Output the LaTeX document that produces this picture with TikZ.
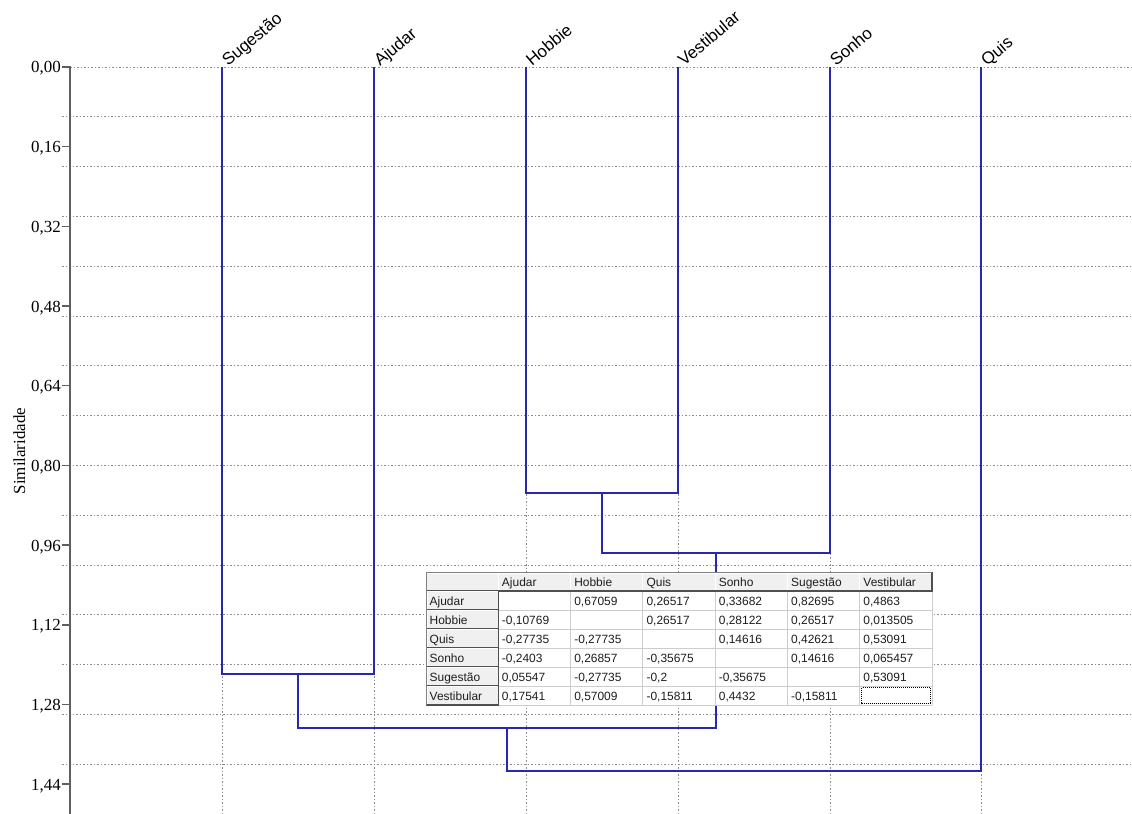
\documentclass[tikz,border=0pt]{standalone}
\usepackage{fontspec}
\setmainfont{Liberation Serif}
\newfontfamily\sansf{Liberation Sans}
\definecolor{dendro}{RGB}{40,40,175}
\definecolor{gridc}{RGB}{140,140,140}
\definecolor{axisc}{RGB}{95,95,95}
\definecolor{hdrfill}{RGB}{240,240,240}
\definecolor{hdrdark}{RGB}{80,80,80}
\definecolor{celline}{RGB}{205,205,205}
\definecolor{celltxt}{RGB}{30,30,30}
\tikzset{
 gridline/.style={gridc, line width=0.9bp, dash pattern=on 1.5bp off 2bp},
 axisline/.style={axisc, line width=2bp},
 tickmark/.style={axisc, line width=1.5bp},
 ticklabel/.style={anchor=base east, inner sep=0pt, font=\fontsize{17}{20}\selectfont},
 ylabel/.style={anchor=base, inner sep=0pt, rotate=90, font=\fontsize{17}{20}\selectfont},
 leaflabel/.style={anchor=base west, inner sep=0pt, rotate=40, font=\sansf\fontsize{17}{20}\selectfont},
 branch/.style={dendro, line width=2.5bp, line join=miter},
 celltext/.style={anchor=base west, inner sep=0pt, text=celltxt, font=\sansf\fontsize{12}{14}\selectfont},
 hdredge/.style={hdrdark, line width=1.2bp},
}
\newcommand\ytick[3]{\draw[tickmark] (62,#2) -- (70,#2); \node[ticklabel] (#1) at (61,{#2+6}) {#3};}
\newcommand\tcell[4]{\node[celltext] (#1) at ({429.5+72.29*#2},{572+19*#3+14.5}) {#4};}
\begin{document}
\begin{tikzpicture}[x=1bp,y=-1bp]
\useasboundingbox (0,0) rectangle (1132,814);
% grid
\foreach \k in {1,...,15} \draw[gridline] (62,{67+49.8*\k}) -- (1132,{67+49.8*\k});
\draw[gridline] (70,67) -- (1132,67);
\foreach \x in {222,374,526,678,830,981} \draw[gridline] (\x,67) -- (\x,814);
% axis
\draw[axisline] (70,66) -- (70,814);
\ytick{t0}{67}{0,00}
\ytick{t1}{146.7}{0,16}
\ytick{t2}{226.4}{0,32}
\ytick{t3}{306}{0,48}
\ytick{t4}{385.7}{0,64}
\ytick{t5}{465.4}{0,80}
\ytick{t6}{545}{0,96}
\ytick{t7}{624.8}{1,12}
\ytick{t8}{704.4}{1,28}
\ytick{t9}{784.1}{1,44}
\node[ylabel] (ylab) at (25,451) {Similaridade};
% leaves
\coordinate (Sug) at (222,67);
\coordinate (Aju) at (374,67);
\coordinate (Hob) at (526,67);
\coordinate (Ves) at (678,67);
\coordinate (Son) at (830,67);
\coordinate (Qui) at (981,67);
\node[leaflabel] (lSug) at (228,67) {Sugestão};
\node[leaflabel] (lAju) at (380,67) {Ajudar};
\node[leaflabel] (lHob) at (532,67) {Hobbie};
\node[leaflabel] (lVes) at (684,67) {Vestibular};
\node[leaflabel] (lSon) at (836,67) {Sonho};
\node[leaflabel] (lQui) at (987,67) {Quis};
% merges
\coordinate (m1) at (602,493);
\coordinate (m2) at (716,553);
\coordinate (m3) at (298,674);
\coordinate (m4) at (507,728);
\coordinate (m5) at (744,771);
\draw[branch] (Hob) |- (m1) -| (Ves);
\draw[branch] (m1) |- (m2) -| (Son);
\draw[branch] (Sug) |- (m3) -| (Aju);
\draw[branch] (m3) |- (m4) -| (m2);
\draw[branch] (m4) |- (m5) -| (Qui);
% table
\fill[white] (498.3,591) rectangle (932,705);
\foreach \c in {2,...,7} \draw[celline, line width=1bp] ({426+72.29*\c},591) -- ({426+72.29*\c},705);
\foreach \r in {2,...,7} \draw[celline, line width=1bp] (498.3,{572+19*\r}) -- (932,{572+19*\r});
\foreach \c in {0,...,6} {
  \pgfmathsetmacro\xa{426+72.29*\c}
  \pgfmathsetmacro\xb{426+72.29*(\c+1)}
  \fill[hdrfill] (\xa,572) rectangle (\xb,591);
  \draw[white, line width=1bp] (\xa,590) -- (\xa,573) -- (\xb,573);
  \draw[hdredge] (\xb,572) -- (\xb,591) -- (\xa,591);
}
\foreach \r in {1,...,6} {
  \pgfmathsetmacro\ya{572+19*\r}
  \pgfmathsetmacro\yb{572+19*(\r+1)}
  \fill[hdrfill] (426,\ya) rectangle (498.3,\yb);
  \draw[white, line width=1bp] (427,\yb) -- (427,\ya) -- (497,\ya);
  \draw[hdredge] (498.3,\ya) -- (498.3,\yb) -- (426,\yb);
}
\draw[gray, line width=1bp] (426,705) -- (426,572) -- (932,572);
\draw[black, line width=0.8bp, dash pattern=on 1bp off 1bp] (861.5,687.5) rectangle (930.5,703.5);
% header texts
\tcell{h1}{1}{0}{Ajudar}
\tcell{h2}{2}{0}{Hobbie}
\tcell{h3}{3}{0}{Quis}
\tcell{h4}{4}{0}{Sonho}
\tcell{h5}{5}{0}{Sugestão}
\tcell{h6}{6}{0}{Vestibular}
\tcell{r1}{0}{1}{Ajudar}
\tcell{r2}{0}{2}{Hobbie}
\tcell{r3}{0}{3}{Quis}
\tcell{r4}{0}{4}{Sonho}
\tcell{r5}{0}{5}{Sugestão}
\tcell{r6}{0}{6}{Vestibular}
% data
\tcell{c12}{2}{1}{0,67059}
\tcell{c13}{3}{1}{0,26517}
\tcell{c14}{4}{1}{0,33682}
\tcell{c15}{5}{1}{0,82695}
\tcell{c16}{6}{1}{0,4863}
\tcell{c21}{1}{2}{-0,10769}
\tcell{c23}{3}{2}{0,26517}
\tcell{c24}{4}{2}{0,28122}
\tcell{c25}{5}{2}{0,26517}
\tcell{c26}{6}{2}{0,013505}
\tcell{c31}{1}{3}{-0,27735}
\tcell{c32}{2}{3}{-0,27735}
\tcell{c34}{4}{3}{0,14616}
\tcell{c35}{5}{3}{0,42621}
\tcell{c36}{6}{3}{0,53091}
\tcell{c41}{1}{4}{-0,2403}
\tcell{c42}{2}{4}{0,26857}
\tcell{c43}{3}{4}{-0,35675}
\tcell{c45}{5}{4}{0,14616}
\tcell{c46}{6}{4}{0,065457}
\tcell{c51}{1}{5}{0,05547}
\tcell{c52}{2}{5}{-0,27735}
\tcell{c53}{3}{5}{-0,2}
\tcell{c54}{4}{5}{-0,35675}
\tcell{c56}{6}{5}{0,53091}
\tcell{c61}{1}{6}{0,17541}
\tcell{c62}{2}{6}{0,57009}
\tcell{c63}{3}{6}{-0,15811}
\tcell{c64}{4}{6}{0,4432}
\tcell{c65}{5}{6}{-0,15811}
\end{tikzpicture}
\end{document}
